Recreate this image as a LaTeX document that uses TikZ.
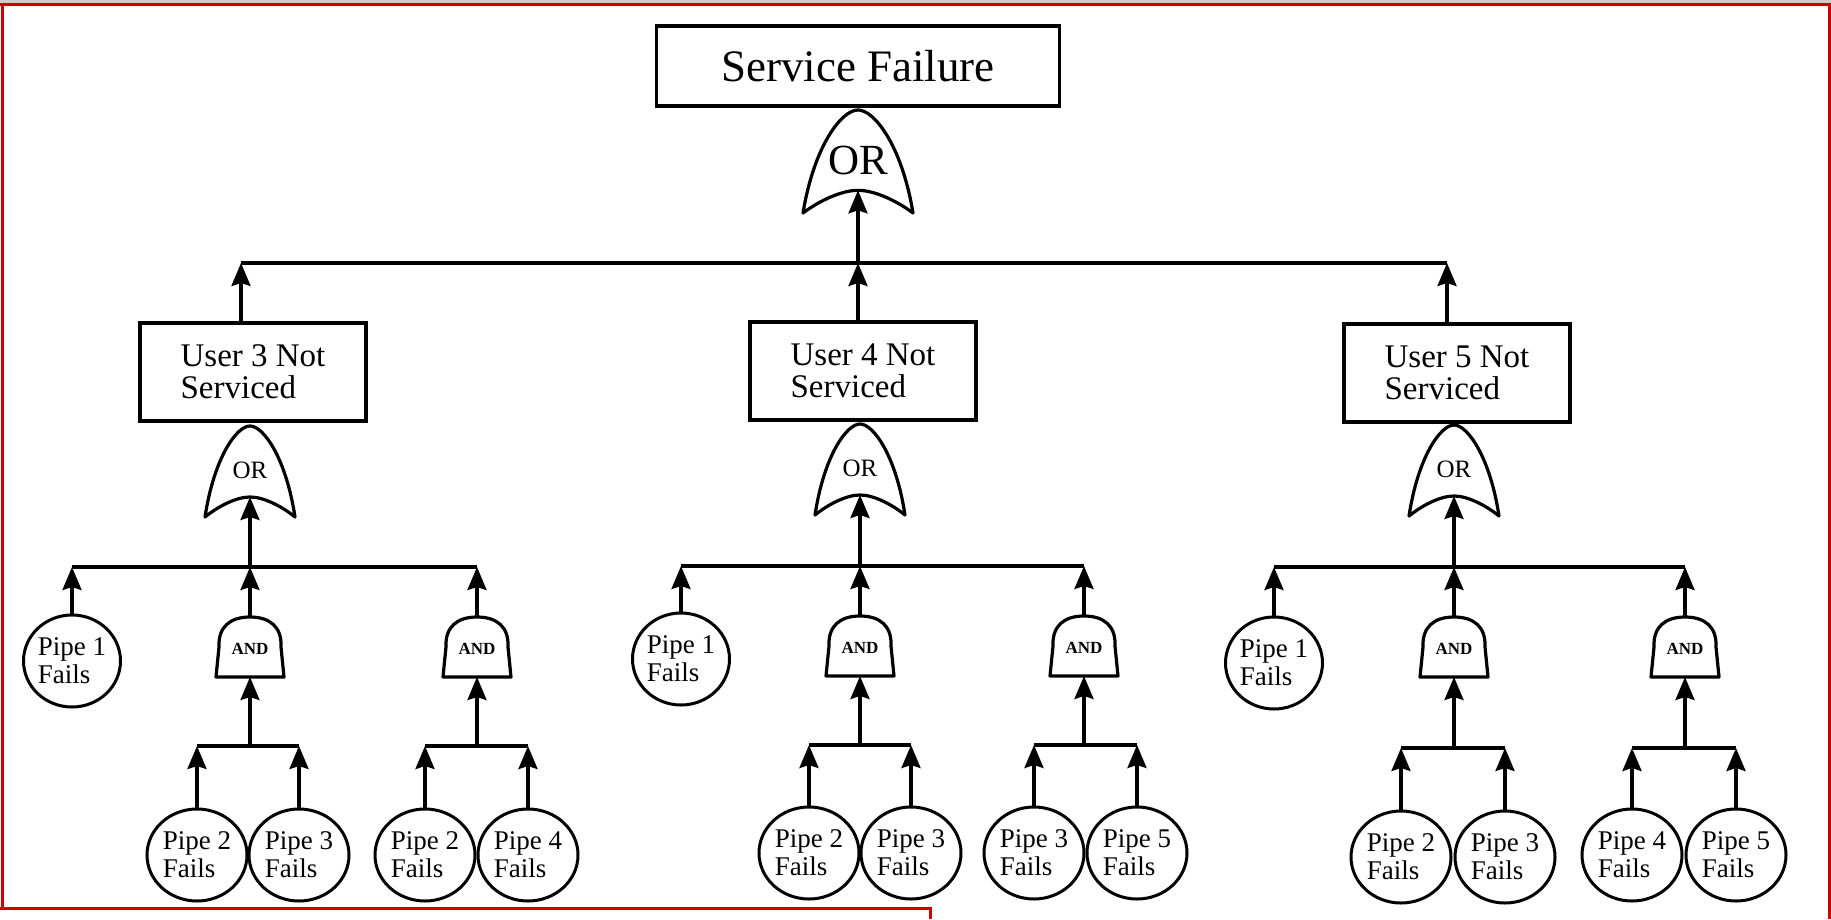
\documentclass[tikz,border=0pt]{standalone}
\usepackage{fontspec}
\setmainfont{Liberation Serif}
\usetikzlibrary{arrows.meta,shapes.geometric}
\definecolor{framered}{RGB}{204,0,0}
\tikzset{
	evbox/.style={draw, line width=3.3pt, rectangle, inner sep=0pt, align=left},
	userbox/.style={evbox, minimum width=226pt, minimum height=98pt, font=\fontsize{33}{32}\selectfont},
	pipenode/.style={draw, line width=3pt, ellipse, inner sep=0pt, minimum width=100pt, minimum height=92pt, align=left, font=\fontsize{27}{28}\selectfont},
	gateline/.style={line width=3.2pt, line join=round},
	uparrow/.style={line width=3.3pt, -{Stealth[length=23pt,width=19pt,inset=3pt]}},
	busline/.style={line width=3.3pt},
	ortext/.style={inner sep=0pt, font=\fontsize{25}{25}\selectfont},
	andtext/.style={inner sep=0pt, font=\fontsize{17}{17}\selectfont\bfseries},
	frameline/.style={line width=3pt, color=framered},
}
% OR gate: name, apex x, apex y, half width, height
\def\orgate[#1](#2,#3)(#4:#5){\draw[gateline] (#2,#3) .. controls +(-0.3*#4,0) and +(0.2*#4,-0.65*#5) .. (#2-#4,#3+#5) .. controls +(0.3*#4,-0.12*#5) and +(-0.3*#4,0) .. (#2,#3+0.78*#5) .. controls +(0.3*#4,0) and +(-0.3*#4,-0.12*#5) .. (#2+#4,#3+#5) .. controls +(-0.2*#4,-0.65*#5) and +(0.3*#4,0) .. (#2,#3) -- cycle; \coordinate (#1-in) at (#2,#3+0.78*#5);}
% AND gate: name, bottom centre x, bottom y
\def\andgate[#1](#2,#3){\draw[gateline] (#2-34,#3) -- (#2-31,#3-30) .. controls +(-1,-20) and +(-20,0) .. (#2,#3-60) .. controls +(20,0) and +(1,-20) .. (#2+31,#3-30) -- (#2+34,#3) -- cycle; \node[andtext] (#1) at (#2,#3-28) {AND}; \coordinate (#1-in) at (#2,#3); \coordinate (#1-out) at (#2,#3-60);}

\begin{document}
\begin{tikzpicture}[x=1pt,y=-1pt]
			\useasboundingbox (0,0) rectangle (1831,919);
			%%%%% FRAME %%%%%
			\fill[black!20] (0,0) rectangle (1831,3);
			\draw[frameline] (0,4) -- (1829,4) -- (1829,919);
			\draw[frameline] (2,4) -- (2,908);
			\draw[frameline] (0,908) -- (930,908) -- (930,919);
			
			%%%%% TOP %%%%%
			\node[evbox, minimum width=403pt, minimum height=80pt, font=\fontsize{45}{45}\selectfont] (sf) at (858,66) {Service Failure};
			\orgate[g0](858,110)(55:103)
			\node[ortext, font=\fontsize{43}{43}\selectfont] (or0) at (858,160) {OR};
			
			\coordinate (t3) at (241,263);
			\coordinate (t4) at (858,263);
			\coordinate (t5) at (1447,263);
			\draw[busline] (t3) -- (t5);
			\draw[uparrow] (t4) -- (g0-in);
			
			\node[userbox] (u3) at (253,372) {User 3 Not\\Serviced};
			\node[userbox] (u4) at (863,371) {User 4 Not\\Serviced};
			\node[userbox] (u5) at (1457,373) {User 5 Not\\Serviced};
			\draw[uparrow] (u3.north -| t3) -- (t3);
			\draw[uparrow] (u4.north -| t4) -- (t4);
			\draw[uparrow] (u5.north -| t5) -- (t5);
			
			%%%%% USER 3 %%%%%
			\orgate[g3](250,426)(45:91)
			\node[ortext] (or3) at (250,470) {OR};
			\coordinate (b3l) at (72,567);
			\coordinate (b3r) at (477,567);
			\draw[busline] (b3l) -- (b3r);
			\draw[uparrow] (g3-in |- b3l) -- (g3-in);
			
			\node[pipenode, minimum width=97pt] (p31) at (72,661) {Pipe 1\\Fails};
			\andgate[a31](250,677)
			\andgate[a32](477,677)
			\draw[uparrow] (p31.north) -- (p31.north |- b3l);
			\draw[uparrow] (a31-out) -- (a31-out |- b3l);
			\draw[uparrow] (a32-out) -- (a32-out |- b3l);
			
			\coordinate (c31l) at (197,746);
			\coordinate (c31r) at (299,746);
			\draw[busline] (c31l) -- (c31r);
			\draw[uparrow] (a31-in |- c31l) -- (a31-in);
			\node[pipenode] (p32) at (197,855) {Pipe 2\\Fails};
			\node[pipenode] (p33) at (299,855) {Pipe 3\\Fails};
			\draw[uparrow] (p32.north) -- (p32.north |- c31l);
			\draw[uparrow] (p33.north) -- (p33.north |- c31l);
			
			\coordinate (c32l) at (425,746);
			\coordinate (c32r) at (528,746);
			\draw[busline] (c32l) -- (c32r);
			\draw[uparrow] (a32-in |- c32l) -- (a32-in);
			\node[pipenode] (p34) at (425,855) {Pipe 2\\Fails};
			\node[pipenode] (p35) at (528,855) {Pipe 4\\Fails};
			\draw[uparrow] (p34.north) -- (p34.north |- c32l);
			\draw[uparrow] (p35.north) -- (p35.north |- c32l);
			
			%%%%% USER 4 %%%%%
			\orgate[g4](860,424)(45:91)
			\node[ortext] (or4) at (860,468) {OR};
			\coordinate (b4l) at (681,566);
			\coordinate (b4r) at (1084,566);
			\draw[busline] (b4l) -- (b4r);
			\draw[uparrow] (g4-in |- b4l) -- (g4-in);
			
			\node[pipenode, minimum width=97pt] (p41) at (681,659) {Pipe 1\\Fails};
			\andgate[a41](860,676)
			\andgate[a42](1084,676)
			\draw[uparrow] (p41.north) -- (p41.north |- b4l);
			\draw[uparrow] (a41-out) -- (a41-out |- b4l);
			\draw[uparrow] (a42-out) -- (a42-out |- b4l);
			
			\coordinate (c41l) at (809,745);
			\coordinate (c41r) at (911,745);
			\draw[busline] (c41l) -- (c41r);
			\draw[uparrow] (a41-in |- c41l) -- (a41-in);
			\node[pipenode] (p42) at (809,853) {Pipe 2\\Fails};
			\node[pipenode] (p43) at (911,853) {Pipe 3\\Fails};
			\draw[uparrow] (p42.north) -- (p42.north |- c41l);
			\draw[uparrow] (p43.north) -- (p43.north |- c41l);
			
			\coordinate (c42l) at (1034,745);
			\coordinate (c42r) at (1137,745);
			\draw[busline] (c42l) -- (c42r);
			\draw[uparrow] (a42-in |- c42l) -- (a42-in);
			\node[pipenode] (p44) at (1034,853) {Pipe 3\\Fails};
			\node[pipenode] (p45) at (1137,853) {Pipe 5\\Fails};
			\draw[uparrow] (p44.north) -- (p44.north |- c42l);
			\draw[uparrow] (p45.north) -- (p45.north |- c42l);
			
			%%%%% USER 5 %%%%%
			\orgate[g5](1454,425)(45:91)
			\node[ortext] (or5) at (1454,469) {OR};
			\coordinate (b5l) at (1274,567);
			\coordinate (b5r) at (1685,567);
			\draw[busline] (b5l) -- (b5r);
			\draw[uparrow] (g5-in |- b5l) -- (g5-in);
			
			\node[pipenode, minimum width=97pt] (p51) at (1274,663) {Pipe 1\\Fails};
			\andgate[a51](1454,677)
			\andgate[a52](1685,677)
			\draw[uparrow] (p51.north) -- (p51.north |- b5l);
			\draw[uparrow] (a51-out) -- (a51-out |- b5l);
			\draw[uparrow] (a52-out) -- (a52-out |- b5l);
			
			\coordinate (c51l) at (1401,748);
			\coordinate (c51r) at (1505,748);
			\draw[busline] (c51l) -- (c51r);
			\draw[uparrow] (a51-in |- c51l) -- (a51-in);
			\node[pipenode] (p52) at (1401,857) {Pipe 2\\Fails};
			\node[pipenode] (p53) at (1505,857) {Pipe 3\\Fails};
			\draw[uparrow] (p52.north) -- (p52.north |- c51l);
			\draw[uparrow] (p53.north) -- (p53.north |- c51l);
			
			\coordinate (c52l) at (1632,748);
			\coordinate (c52r) at (1736,748);
			\draw[busline] (c52l) -- (c52r);
			\draw[uparrow] (a52-in |- c52l) -- (a52-in);
			\node[pipenode] (p54) at (1632,855) {Pipe 4\\Fails};
			\node[pipenode] (p55) at (1736,855) {Pipe 5\\Fails};
			\draw[uparrow] (p54.north) -- (p54.north |- c52l);
			\draw[uparrow] (p55.north) -- (p55.north |- c52l);
			
			%%%%% END %%%%%
\end{tikzpicture}
\end{document}
